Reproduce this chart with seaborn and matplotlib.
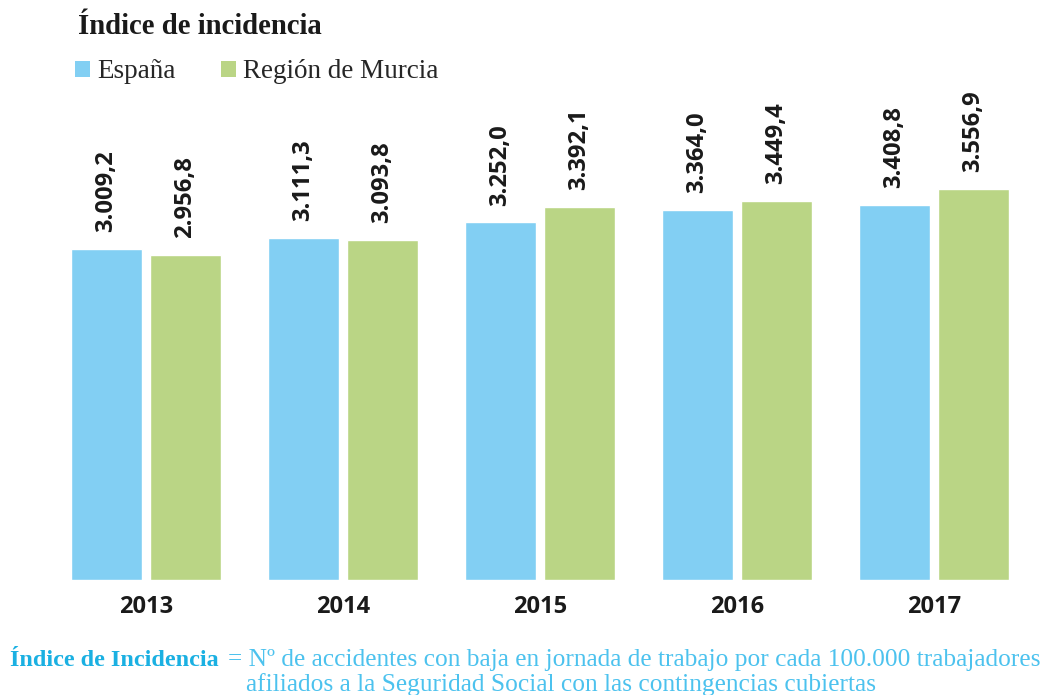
import matplotlib
matplotlib.use("Agg")
import matplotlib.pyplot as plt
from matplotlib.patches import Patch
import seaborn as sns
import pandas as pd

years = ['2013', '2014', '2015', '2016', '2017']
espana = [3009.2, 3111.3, 3252.0, 3364.0, 3408.8]
murcia = [2956.8, 3093.8, 3392.1, 3449.4, 3556.9]
series = ['España', 'Región de Murcia']
colors = ['#82cff3', '#bad585']

df = pd.DataFrame({
    'year': years * 2,
    'valor': espana + murcia,
    'serie': [series[0]] * len(years) + [series[1]] * len(years),
})


def fmt_es(v):
    # 3009.2 -> 3.009,2
    return f"{v:,.1f}".replace(',', 'X').replace('.', ',').replace('X', '.')


sns.set_theme(style='white')
serif = 'Liberation Serif'
sans = 'Open Sans'

fig = plt.figure(figsize=(10.53, 6.95), dpi=100)
ax = fig.add_axes([0.0451, 0.1655, 0.9354, 0.633])
sns.barplot(data=df, x='year', y='valor', hue='serie', palette=colors,
            width=0.8, gap=0.1, saturation=1, legend=False, ax=ax)

for cont in ax.containers:
    vals = [b.get_height() for b in cont]
    ax.bar_label(cont, labels=[fmt_es(v) for v in vals], rotation=90, padding=12,
                 fontsize=17.2, fontweight='bold', family=sans, color='#1a1a1a')

ax.set_ylim(0, 4000)
ax.set_xlim(-0.5, 4.5)
ax.set_xlabel('')
ax.set_ylabel('')
ax.set_yticks([])
sns.despine(ax=ax, left=True, bottom=True)
ax.tick_params(axis='x', length=0, pad=11)
for lbl in ax.get_xticklabels():
    lbl.set_fontsize(17)
    lbl.set_fontweight('bold')
    lbl.set_family(sans)
    lbl.set_color('#1a1a1a')

# title
fig.text(78 / 1053, 1 - 27 / 695, 'Índice de incidencia', fontsize=20.7, fontweight='bold',
         family=serif, color='#1a1a1a', va='center', ha='left')

# legend
handles = [Patch(facecolor=c, edgecolor='none') for c in colors]
fig.legend(handles, series, loc='center left', bbox_to_anchor=(75 / 1053, 1 - 72 / 695),
           ncol=2, frameon=False, borderpad=0, borderaxespad=0,
           handlelength=0.55, handleheight=0.55, handletextpad=0.26,
           columnspacing=1.7, prop={'family': serif, 'size': 19.5})

# footnote
fig.text(10 / 1053, 1 - 660 / 695, 'Índice de Incidencia', fontsize=17.4, fontweight='bold',
         family=serif, color='#1ab0e2', va='center', ha='left')
fig.text(228 / 1053, 1 - 660 / 695,
         '= Nº de accidentes con baja en jornada de trabajo por cada 100.000 trabajadores',
         fontsize=18.3, family=serif, color='#4cc2ee', va='center', ha='left')
fig.text(246 / 1053, 1 - 685 / 695,
         'afiliados a la Seguridad Social con las contingencias cubiertas',
         fontsize=18.3, family=serif, color='#4cc2ee', va='center', ha='left')

fig.savefig('out.png', dpi=100)
